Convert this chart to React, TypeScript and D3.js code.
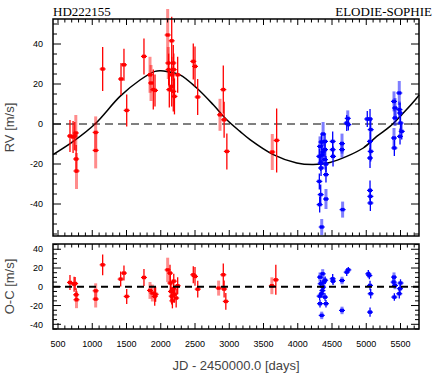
import React from "react";
import * as d3 from "d3";

// ELODIE radial velocities: [jd, rv, err, faint]
const elodieRv: number[][] = [
  [675, -6, 8, 0], [720, -6.5, 8, 0], [745, -6, 7, 0], [760, -4.5, 9, 1],
  [765, -17.5, 7, 0], [770, -23.5, 9, 1], [1050, -4.2, 8, 1], [1050, -13.2, 9, 1],
  [1152, 27.5, 11, 0], [1420, 22.5, 8, 0], [1463, 29.6, 8, 0], [1503, 6.8, 8, 0],
  [1755, 33.8, 9, 0], [1843, 24.6, 9, 1], [1858, 20.5, 9, 1], [1891, 17.2, 10, 0],
  [1916, 16.8, 8, 0], [2101, 44.5, 13, 1], [2110, 30.5, 8, 1], [2115, 27.2, 8, 0],
  [2125, 17.2, 9, 0], [2160, 41.6, 12, 0], [2160, 24.6, 9, 0], [2160, 18.8, 10, 0],
  [2183, 30.5, 9, 0], [2190, 27.2, 8, 0], [2183, 16.3, 10, 0], [2200, 13.8, 9, 0],
  [2247, 24.6, 9, 0], [2475, 31.3, 9, 0], [2500, 28.8, 10, 0], [2539, 13.5, 9, 0],
  [2865, 4.6, 8, 1], [2913, 17.2, 12, 0], [2925, 2.1, 9, 0], [2965, -13.7, 9, 0],
  [3628, -14, 9, 1], [3692, -8.2, 16, 0],
];

// SOPHIE radial velocities: [jd, rv, err, faint]
const sophieRv: number[][] = [
  [4315, -16.2, 4, 0], [4325, -11.2, 5, 1], [4335, -19.5, 4, 0], [4315, -28.7, 4, 0],
  [4335, -35.3, 5, 0], [4320, -40.3, 4, 0], [4350, -51.5, 4, 1], [4364, -14, 6, 1],
  [4370, -5, 6, 1], [4398, -8.7, 4, 0], [4398, -12.8, 4, 0], [4398, -17.8, 5, 1],
  [4412, -20, 4, 0], [4412, -25.3, 4, 0], [4412, -37.5, 5, 1], [4345, -9, 4, 0],
  [4355, -15.5, 5, 0], [4340, -22, 4, 0], [4510, -8.7, 5, 0], [4510, -12.8, 4, 0],
  [4515, -16.2, 5, 0], [4646, -9.8, 5, 1], [4646, -12.8, 4, 1], [4655, -42.8, 4, 1],
  [4715, 0.5, 4, 0], [4730, 2.8, 4, 1], [4738, -0.3, 3, 0], [5015, 2.5, 4, 0],
  [5055, 2.5, 5, 0], [5065, -2.8, 5, 0], [5055, -8.7, 5, 0], [5065, -13.7, 5, 0],
  [5055, -17, 5, 0], [5055, -33.2, 5, 0], [5060, -36.2, 4, 0], [5060, -39.5, 4, 0],
  [5405, 11.3, 5, 1], [5420, 8, 5, 1], [5420, 3, 4, 1], [5405, -7, 5, 1],
  [5410, -12, 4, 0], [5482, 15.5, 6, 1], [5493, 5.5, 5, 0], [5500, 0.5, 5, 0],
  [5518, -3.7, 4, 0], [5493, -6.2, 4, 0], [5485, 7.2, 4, 1],
];

// residuals: [jd, o-c, err, faint]
const elodieOc: number[][] = [
  [675, 4.6, 8, 0], [735, 2.8, 8, 0], [750, 3.5, 7, 0], [765, -8.5, 7, 0],
  [770, -13.8, 9, 1], [1050, -4.3, 8, 1], [1050, -13.1, 9, 1], [1152, 23.4, 11, 0],
  [1415, 8.2, 8, 0], [1463, 14.6, 8, 0], [1503, -10.3, 8, 0], [1755, 9.9, 9, 0],
  [1843, -3.9, 9, 1], [1878, -6.7, 9, 1], [1912, -10.3, 10, 0], [1925, -8, 8, 0],
  [2101, 18, 13, 1], [2135, 14.6, 9, 0], [2140, 4, 9, 0], [2150, -5, 9, 0],
  [2160, -10, 9, 0], [2170, -15, 8, 0], [2185, -2, 9, 0], [2190, 6, 8, 0],
  [2200, -8, 9, 0], [2225, -12, 10, 0], [2247, 1.1, 9, 0], [2475, 12.8, 9, 0],
  [2500, 11, 10, 0], [2540, -2.5, 9, 0], [2845, -1.4, 8, 1], [2913, 12.8, 12, 0],
  [2925, -2.4, 9, 0], [2950, -15.6, 9, 0], [3622, 1.1, 9, 1], [3680, 7.4, 16, 0],
];

const sophieOc: number[][] = [
  [4325, 10.3, 5, 1], [4335, 3.2, 4, 0], [4350, -7.4, 4, 0], [4325, -18, 4, 0],
  [4350, -30.5, 4, 1], [4364, 13.8, 5, 1], [4370, -0.4, 4, 0], [4398, -11, 4, 0],
  [4412, -18, 4, 0], [4380, 5, 5, 1], [4360, -4, 5, 0], [4320, -10, 4, 0],
  [4400, 7, 4, 0], [4510, 8.5, 5, 0], [4515, 6, 4, 0], [4646, 6.7, 4, 1],
  [4646, -25.2, 4, 1], [4715, 15.6, 4, 0], [4738, 18, 3, 0], [5030, 13.8, 4, 0],
  [5045, 12, 4, 0], [5055, 1.4, 5, 0], [5065, -7.4, 5, 0], [5055, -27, 5, 0],
  [5405, 10.3, 5, 1], [5420, 1.4, 4, 1], [5410, -11, 4, 0], [5482, -7.4, 5, 0],
  [5493, -2, 4, 0], [5500, 4, 4, 0], [5400, 5, 5, 1],
];

// orbital solution
const orbitJd = [427, 723, 1040, 1405, 1697, 1916, 2000, 2087, 2281, 2525, 2767, 2963,
  3157, 3303, 3643, 3985, 4227, 4471, 4715, 4957, 5153, 5347, 5541, 5737, 5770];
const orbitRv = [-15.3, -8.7, 0, 13.8, 22, 26.3, 26.6, 26.3, 24.6, 18, 9.6, 2.1,
  -3.7, -7.8, -15.3, -19.5, -20.3, -19.2, -16.2, -12, -6.2, -1.2, 5.5, 13, 14.6];

const yTicksTop = [-40, -20, 0, 20, 40];
const yTicksBot = [-40, -20, 0, 20, 40];
const xTickLabels = [500, 1000, 1500, 2000, 2500, 3000, 3500, 4000, 4500, 5000, 5500];

const W = 436;
const H = 380;
const L = 53;
const R = 419;
const topT = 19;
const topB = 236;
const botT = 244;
const botB = 329;
const sans = "'Liberation Sans', Arial, sans-serif";

const x = d3.scaleLinear().domain([427, 5770]).range([L, R]);
const yTop = d3.scaleLinear().domain([-56, 52.5]).range([topB, topT]);
const yBot = d3.scaleLinear().domain([-45, 45.6]).range([botB, botT]);

function Points({ data, y, color, faintColor }: any) {
  return (
    <g>
      {data.filter((d: number[]) => d[3] === 1).map((d: number[], i: number) => (
        <line key={"f" + i} x1={x(d[0])} x2={x(d[0])} y1={y(d[1] - d[2])} y2={y(d[1] + d[2])}
          stroke={faintColor} strokeWidth={3} />
      ))}
      {data.filter((d: number[]) => d[3] === 0).map((d: number[], i: number) => (
        <line key={"s" + i} x1={x(d[0])} x2={x(d[0])} y1={y(d[1] - d[2])} y2={y(d[1] + d[2])}
          stroke={color} strokeWidth={1.3} />
      ))}
      {data.map((d: number[], i: number) => (
        <g key={"p" + i}>
          <line x1={x(d[0]) - 3} x2={x(d[0]) + 3} y1={y(d[1])} y2={y(d[1])} stroke={color} strokeWidth={1.2} />
          <rect x={x(d[0]) - 2} y={y(d[1]) - 1.7} width={4} height={3.4} fill={color} />
        </g>
      ))}
    </g>
  );
}

function Frame({ y, t, b, ticks, minor }: any) {
  const xMinor = d3.range(500, 5701, 100);
  return (
    <g>
      {xMinor.map((v) => {
        const big = v % 500 === 0;
        const len = big ? 6 : 3.5;
        return (
          <g key={v} stroke="#000" strokeWidth={1}>
            <line x1={x(v)} x2={x(v)} y1={t} y2={t + len} />
            <line x1={x(v)} x2={x(v)} y1={b} y2={b - len} />
          </g>
        );
      })}
      {minor.map((v: number) => {
        const big = v % 20 === 0;
        const len = big ? 8 : 4;
        return (
          <g key={v} stroke="#000" strokeWidth={1}>
            <line x1={L} x2={L + len} y1={y(v)} y2={y(v)} />
            <line x1={R} x2={R - len} y1={y(v)} y2={y(v)} />
          </g>
        );
      })}
      {ticks.map((v: number) => (
        <text key={v} x={L - 10} y={y(v) + 3.2} textAnchor="end" fontFamily={sans} fontSize={9}>
          {v}
        </text>
      ))}
      <rect x={L} y={t} width={R - L} height={b - t} fill="none" stroke="#000" strokeWidth={1.5} />
    </g>
  );
}

export default function App() {
  const orbit = orbitJd.map((j, i) => [j, orbitRv[i]] as [number, number]);
  const line = d3.line<[number, number]>()
    .x((d) => x(d[0]))
    .y((d) => yTop(d[1]))
    .curve(d3.curveCatmullRom);

  return (
    <svg width={W} height={H} style={{ position: "absolute", left: 0, top: 0, background: "#fff" }}>
      <text x={L} y={15.5} fontFamily="'Liberation Serif', serif" fontSize={13}>HD222155</text>
      <text x={432} y={15.5} textAnchor="end" fontFamily="'Liberation Serif', serif" fontSize={13}>
        ELODIE-SOPHIE
      </text>

      {/* top panel */}
      <line x1={L} x2={R} y1={yTop(0)} y2={yTop(0)} stroke="#000" strokeWidth={1} strokeDasharray="8,5" />
      <path d={line(orbit) || ""} fill="none" stroke="#000" strokeWidth={1.5} />
      <Points data={elodieRv} y={yTop} color="#ff0000" faintColor="rgba(255,0,0,0.45)" />
      <Points data={sophieRv} y={yTop} color="#0000ff" faintColor="rgba(0,0,255,0.5)" />
      <Frame y={yTop} t={topT} b={topB} ticks={yTicksTop} minor={d3.range(-55, 51, 5)} />

      {/* residuals */}
      <Points data={elodieOc} y={yBot} color="#ff0000" faintColor="rgba(255,0,0,0.45)" />
      <Points data={sophieOc} y={yBot} color="#0000ff" faintColor="rgba(0,0,255,0.5)" />
      <line x1={L} x2={R} y1={yBot(0)} y2={yBot(0)} stroke="#000" strokeWidth={2} strokeDasharray="7,5" />
      <Frame y={yBot} t={botT} b={botB} ticks={yTicksBot} minor={d3.range(-45, 46, 5)} />

      {xTickLabels.map((v) => (
        <text key={v} x={x(v)} y={347} textAnchor="middle" fontFamily={sans} fontSize={9}>
          {v}
        </text>
      ))}
      <text x={236} y={370} textAnchor="middle" fontFamily={sans} fontSize={13} fill="#444">
        JD - 2450000.0 [days]
      </text>
      <text transform={`translate(14,${(topT + topB) / 2}) rotate(-90)`} textAnchor="middle"
        fontFamily={sans} fontSize={13} fill="#444">
        RV [m/s]
      </text>
      <text transform={`translate(14,${(botT + botB) / 2}) rotate(-90)`} textAnchor="middle"
        fontFamily={sans} fontSize={13} fill="#444">
        O-C [m/s]
      </text>
    </svg>
  );
}
